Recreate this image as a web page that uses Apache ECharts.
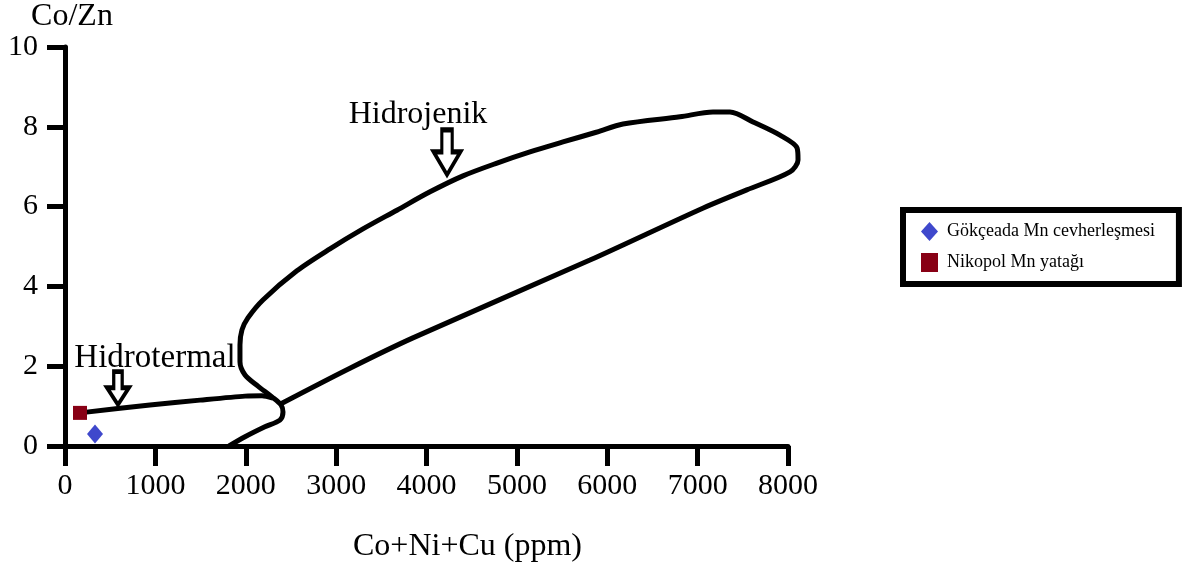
<!DOCTYPE html>
<html>
<head>
<meta charset="utf-8">
<script src="https://cdn.jsdelivr.net/npm/echarts@6/dist/echarts.min.js"></script>
<style>
html,body{margin:0;padding:0;background:#fff;}
#c{width:1182px;height:565px;}
</style>
</head>
<body>
<div id="c"></div>
<script>
// ---- data (x: Co+Ni+Cu ppm, y: Co/Zn) ----
var xTicks = [0, 1000, 2000, 3000, 4000, 5000, 6000, 7000, 8000];
var yTicks = [0, 2, 4, 6, 8, 10];

var gokceada = [[332, 0.30]];
var nikopol = [[166, 0.83]];

var hidrotermalLine = [
  [166, 0.83], [940, 1.03], [1494, 1.15], [1992, 1.25], [2180, 1.26], [2300, 1.20]
];

var hidrojenikOutline = [
  [1815, 0.00], [1992, 0.23], [2212, 0.48], [2378, 0.65], [2412, 0.85],
  [2390, 1.03], [2290, 1.23], [2135, 1.50], [1992, 1.78], [1936, 2.11],
  [1936, 2.53], [1958, 2.91], [2024, 3.21], [2190, 3.66], [2566, 4.39],
  [2932, 4.94], [3297, 5.44], [3673, 5.91], [4039, 6.37], [4404, 6.77],
  [4780, 7.09], [5145, 7.37], [5510, 7.62], [5887, 7.87], [6174, 8.07],
  [6805, 8.25], [7170, 8.37], [7358, 8.37], [7613, 8.12], [7911, 7.79],
  [8100, 7.47], [8111, 7.17], [8022, 6.87], [7544, 6.42], [7057, 5.96],
  [5809, 4.66], [3850, 2.71], [3153, 1.95], [2390, 1.06]
];

var labelNames = ['Hidrojenik', 'Hidrotermal'];
var labelPos = [[3906, 8.30], [996, 2.20]];
var arrowPos = [[4227, 7.36], [586, 1.45]];

var seriesNames = ['Gökçeada Mn cevherleşmesi', 'Nikopol Mn yatağı'];
var xName = 'Co+Ni+Cu (ppm)';
var yName = 'Co/Zn';

// overlay scale: same px-per-unit as the main axis, extended a little past 8000
var overlayXMax = 8400;

// ---- chart ----
var serif = 'Liberation Serif';
var arrowPath = 'path://M8,0 L18,0 L18,22 L26,22 L13,45 L0,22 L8,22 Z';
var chart = echarts.init(document.getElementById('c'), null, {renderer: 'canvas'});

var axisLineStyle = {show: true, onZero: false, lineStyle: {color: '#000', width: 5}};
var gridLeft = 65, gridRight = 394, gridTop = 47, gridBottom = 119;
var plotW = 1182 - gridLeft - gridRight;
var overlayW = plotW * overlayXMax / xTicks[xTicks.length - 1];

chart.setOption({
  animation: false,
  backgroundColor: '#fff',
  grid: [
    {left: gridLeft, right: gridRight, top: gridTop, bottom: gridBottom,
     containLabel: false, outerBoundsMode: 'none'},
    {left: gridLeft, width: overlayW, top: gridTop, bottom: gridBottom,
     containLabel: false, outerBoundsMode: 'none'}
  ],
  legend: {
    data: [
      {name: seriesNames[0], icon: 'diamond'},
      {name: seriesNames[1], icon: 'rect'}
    ],
    orient: 'vertical',
    left: 903, top: 210,
    padding: [12, 24, 12, 18],
    itemGap: 12,
    itemWidth: 17, itemHeight: 19,
    borderColor: '#000', borderWidth: 6,
    backgroundColor: '#fff',
    textStyle: {fontFamily: serif, fontSize: 18, color: '#000', padding: [0, 0, 0, 4]}
  },
  xAxis: [{
    gridIndex: 0,
    type: 'value', min: xTicks[0], max: xTicks[xTicks.length - 1], interval: 1000,
    name: xName, nameLocation: 'middle', nameGap: 85,
    nameTextStyle: {color: '#000', fontFamily: serif, fontSize: 32, padding: [0, 0, 0, 82]},
    axisLine: axisLineStyle,
    splitLine: {show: false},
    axisTick: {show: true, inside: false, length: 20, lineStyle: {color: '#000', width: 5}},
    axisLabel: {color: '#000', fontFamily: serif, fontSize: 30, margin: 25,
                formatter: function (v) { return String(v); }}
  }, {
    gridIndex: 1, type: 'value', min: 0, max: overlayXMax, show: false
  }],
  yAxis: [{
    gridIndex: 0,
    type: 'value', min: yTicks[0], max: yTicks[yTicks.length - 1], interval: 2,
    name: yName, nameLocation: 'end', nameGap: 14,
    nameTextStyle: {color: '#000', fontFamily: serif, fontSize: 32, padding: [0, 0, 0, 14]},
    axisLine: axisLineStyle,
    splitLine: {show: false},
    axisTick: {show: true, inside: false, length: 18, lineStyle: {color: '#000', width: 5}},
    axisLabel: {color: '#000', fontFamily: serif, fontSize: 30, margin: 27}
  }, {
    gridIndex: 1, type: 'value', min: yTicks[0], max: yTicks[yTicks.length - 1], show: false
  }],
  series: [
    {
      name: 'hidrojenik', type: 'line', data: hidrojenikOutline,
      xAxisIndex: 1, yAxisIndex: 1, clip: false,
      symbol: 'none', smooth: 0.3, lineStyle: {color: '#000', width: 5},
      silent: true, z: 2
    },
    {
      name: 'hidrotermal', type: 'line', data: hidrotermalLine, clip: false,
      symbol: 'none', smooth: 0.25, lineStyle: {color: '#000', width: 5},
      silent: true, z: 2
    },
    {
      name: 'labels', type: 'scatter', symbol: 'circle', symbolSize: 1, silent: true, z: 5,
      itemStyle: {color: '#fff', opacity: 1},
      data: [
        {value: labelPos[0], name: labelNames[0], label: {fontSize: 32}},
        {value: labelPos[1], name: labelNames[1], label: {fontSize: 33}}
      ],
      label: {show: true, position: 'inside', formatter: '{b}', color: '#000',
              opacity: 1, fontFamily: serif, fontSize: 32}
    },
    {
      name: 'arrows', type: 'scatter', silent: true, z: 5,
      symbol: arrowPath,
      data: [
        {value: arrowPos[0], symbolSize: [27, 45]},
        {value: arrowPos[1], symbolSize: [22, 33]}
      ],
      itemStyle: {color: '#fff', borderColor: '#000', borderWidth: 4, opacity: 1}
    },
    {
      name: seriesNames[0], type: 'scatter', data: gokceada,
      symbol: 'diamond', symbolSize: [16, 19],
      itemStyle: {color: '#3f48cc', opacity: 1}, z: 6
    },
    {
      name: seriesNames[1], type: 'scatter', data: nikopol,
      symbol: 'rect', symbolSize: [14, 14],
      itemStyle: {color: '#880015', opacity: 1}, z: 6
    }
  ]
});
</script>
</body>
</html>
